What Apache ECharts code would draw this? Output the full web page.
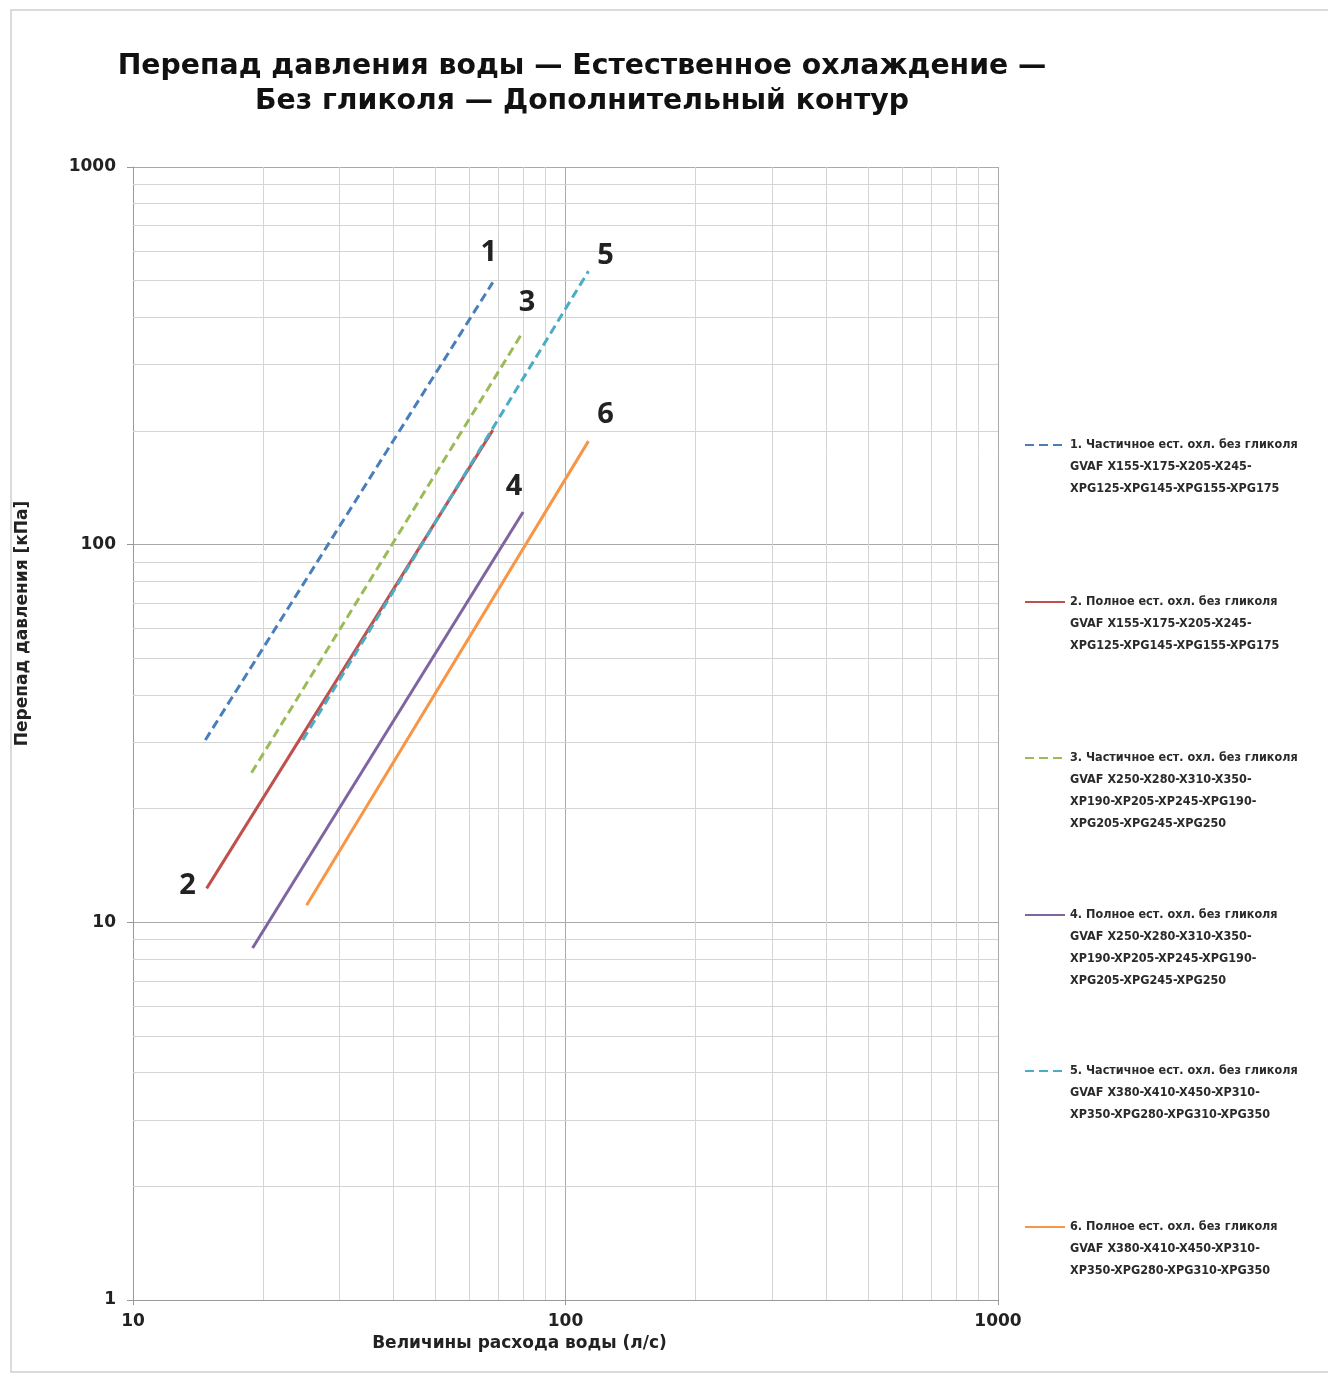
<!DOCTYPE html>
<html><head><meta charset="utf-8">
<script src="https://cdn.jsdelivr.net/npm/echarts@6/dist/echarts.min.js"></script>
<style>html,body{margin:0;padding:0;background:#fff}#c{width:1328px;height:1374px}</style>
</head><body><div id="c"></div>
<script>
// ---- data ----
const seriesNames = [
  '1. Частичное ест. охл. без гликоля\nGVAF X155-X175-X205-X245-\nXPG125-XPG145-XPG155-XPG175',
  '2. Полное ест. охл. без гликоля\nGVAF X155-X175-X205-X245-\nXPG125-XPG145-XPG155-XPG175',
  '3. Частичное ест. охл. без гликоля\nGVAF X250-X280-X310-X350-\nXP190-XP205-XP245-XPG190-\nXPG205-XPG245-XPG250',
  '4. Полное ест. охл. без гликоля\nGVAF X250-X280-X310-X350-\nXP190-XP205-XP245-XPG190-\nXPG205-XPG245-XPG250',
  '5. Частичное ест. охл. без гликоля\nGVAF X380-X410-X450-XP310-\nXP350-XPG280-XPG310-XPG350',
  '6. Полное ест. охл. без гликоля\nGVAF X380-X410-X450-XP310-\nXP350-XPG280-XPG310-XPG350'
];
const curveLabels = ['1', '2', '3', '4', '5', '6'];
const flow1 = [14.7, 67.9];  const dp1 = [30.4, 495];
const flow2 = [14.8, 67.9];  const dp2 = [12.3, 201];
const flow3 = [18.8, 78.9];  const dp3 = [24.9, 359];
const flow4 = [18.9, 79.8];  const dp4 = [8.55, 122];
const flow5 = [24.7, 113];   const dp5 = [30.4, 530];
const flow6 = [25.2, 113];   const dp6 = [11.1, 188];
const xMinorTicks = [20, 30, 40, 50, 60, 70, 80, 90, 200, 300, 400, 500, 600, 700, 800, 900];
const yMinorTicks = [2, 3, 4, 5, 6, 7, 8, 9, 20, 30, 40, 50, 60, 70, 80, 90, 200, 300, 400, 500, 600, 700, 800, 900];

// ---- styles ----
const colors = ['#4a7ebb', '#c0504d', '#9bbb59', '#8064a2', '#4bacc6', '#f79646'];
const dashed = [true, false, true, false, true, false];
const labelOffsets = [[-4, -30], [-19, -3], [6, -32], [-9, -25], [17, -15], [17, -26]];
const labelAtStart = [false, true, false, false, false, false];
const iconY = [445, 602, 758, 915, 1071, 1227];
const LH = 22;
const MAIN_FONT = '"DejaVu Sans", "Open Sans", sans-serif';
const LEG_FONT = '"DejaVu Sans Condensed", "Liberation Sans Narrow", "Roboto", sans-serif';

const flows = [flow1, flow2, flow3, flow4, flow5, flow6];
const dps = [dp1, dp2, dp3, dp4, dp5, dp6];

const series = flows.map((fx, i) => {
  const data = fx.map((x, k) => [x, dps[i][k]]);
  const idx = labelAtStart[i] ? 0 : data.length - 1;
  return {
    name: seriesNames[i],
    type: 'line',
    data: data,
    symbol: 'none',
    color: colors[i],
    lineStyle: { width: 3, color: colors[i], type: dashed[i] ? [9, 5] : 'solid' },
    silent: true,
    z: 5,
    markPoint: {
      symbol: 'circle', symbolSize: 0, silent: true,
      data: [{ coord: data[idx], value: curveLabels[i] }],
      label: {
        show: true, position: 'inside', offset: labelOffsets[i],
        formatter: curveLabels[i],
        fontFamily: 'Open Sans', fontWeight: 'bold', fontSize: 29, color: '#222'
      }
    }
  };
});

// grid lines for the log minor subdivisions
series.push({
  type: 'line', data: [], silent: true, z: 1,
  markLine: {
    silent: true, symbol: 'none', animation: false,
    label: { show: false },
    lineStyle: { color: '#d4d4d4', width: 1, type: 'solid' },
    data: xMinorTicks.map(v => ({ xAxis: v })).concat(yMinorTicks.map(v => ({ yAxis: v })))
  }
});

const legends = seriesNames.map((n, i) => {
  const nl = n.split('\n').length;
  return {
    show: true,
    orient: 'vertical',
    left: 1024,
    top: iconY[i] - (2 * nl - 1) * LH / 2,
    padding: 0,
    itemWidth: 40, itemHeight: 10,
    selectedMode: false,
    itemStyle: { opacity: 0 },
    data: [n],
    formatter: name => '\n'.repeat(nl - 1) + name,
    textStyle: {
      fontFamily: LEG_FONT, fontSize: 12.5, color: '#2a2a2a', fontWeight: 'bold',
      lineHeight: LH
    }
  };
});

const chart = echarts.init(document.getElementById('c'), null, { renderer: 'canvas' });
chart.setOption({
  animation: false,
  backgroundColor: '#fff',
  title: {
    text: 'Перепад давления воды — Естественное охлаждение —\nБез гликоля — Дополнительный контур',
    left: 577, top: 44, textAlign: 'center',
    textStyle: { fontFamily: MAIN_FONT, fontWeight: 'bold', fontSize: 28.3, lineHeight: 35, color: '#111' }
  },
  legend: legends,
  grid: { left: 133, right: 330, top: 167, bottom: 74, containLabel: false },
  xAxis: {
    type: 'log', logBase: 10, min: 10, max: 1000,
    name: 'Величины расхода воды (л/с)', nameLocation: 'middle', nameGap: 33,
    nameTextStyle: { fontFamily: MAIN_FONT, fontWeight: 'bold', fontSize: 17, color: '#222', padding: [0, 92, 0, 0] },
    axisLine: { show: true, lineStyle: { color: '#999', width: 1 } },
    axisTick: { show: true, length: 5, lineStyle: { color: '#999' } },
    axisLabel: { fontFamily: MAIN_FONT, fontWeight: 'bold', fontSize: 17, color: '#222', margin: 13, formatter: v => String(v) },
    splitLine: { show: true, lineStyle: { color: '#aaa', width: 1 } }
  },
  yAxis: {
    type: 'log', logBase: 10, min: 1, max: 1000,
    name: 'Перепад давления [кПа]', nameLocation: 'middle', nameGap: 102,
    nameTextStyle: { fontFamily: MAIN_FONT, fontWeight: 'bold', fontSize: 17, color: '#222', padding: [0, 0, 0, 220] },
    axisLine: { show: true, lineStyle: { color: '#999', width: 1 } },
    axisTick: { show: true, length: 6, lineStyle: { color: '#999' } },
    axisLabel: { fontFamily: MAIN_FONT, fontWeight: 'bold', fontSize: 17, color: '#222', margin: 17, formatter: v => String(v) },
    splitLine: { show: true, lineStyle: { color: '#aaa', width: 1 } }
  },
  graphic: [{
    type: 'rect', silent: true, z: -1,
    shape: { x: 11, y: 10, width: 1330, height: 1362 },
    style: { fill: 'none', stroke: '#cfcfcf', lineWidth: 1.5 }
  }],
  series: series
});
</script></body></html>
